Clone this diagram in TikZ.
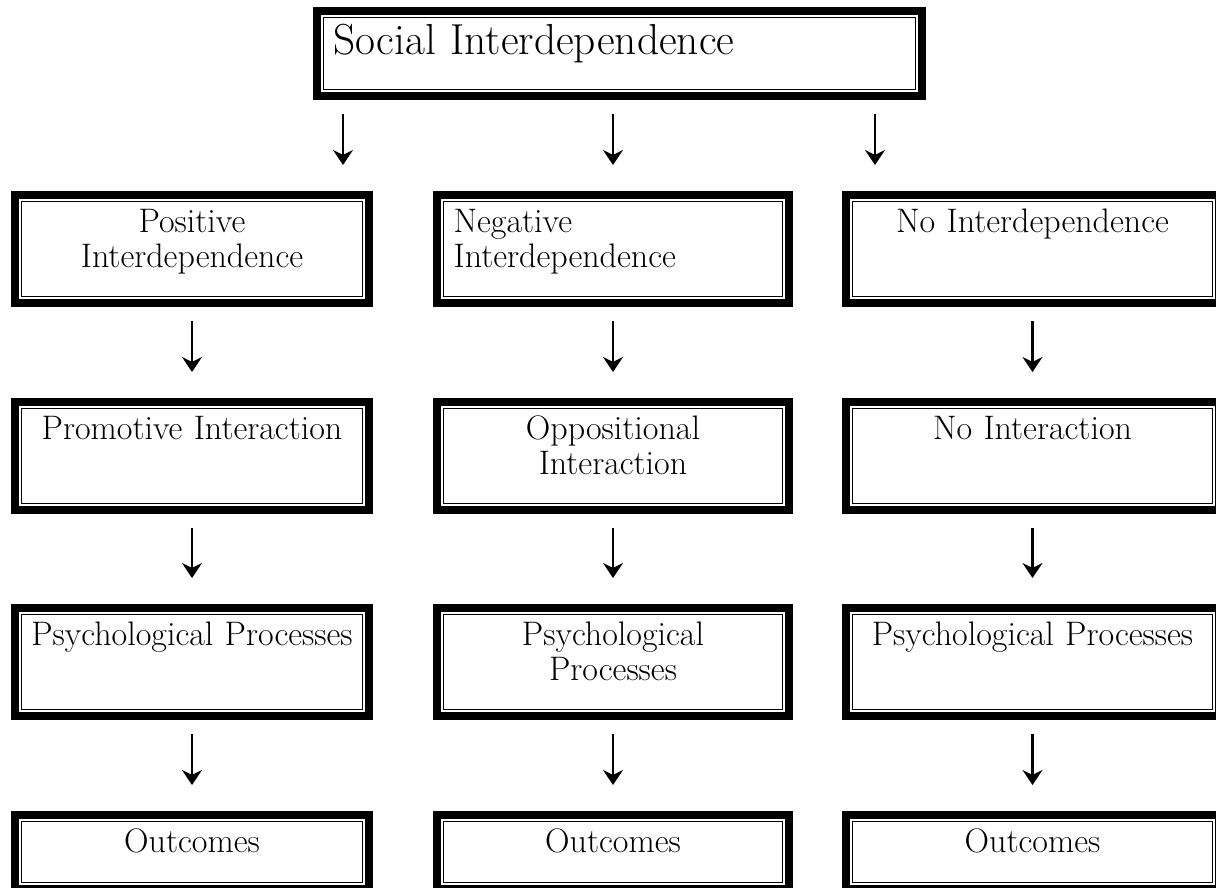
\documentclass[tikz,border=0pt]{standalone}
\usetikzlibrary{arrows.meta}

\tikzset{
  panel/.style={draw, line width=0.8pt, inner xsep=2pt, inner ysep=0pt, outer sep=0pt,
    anchor=north, align=center, font=\fontsize{17}{17.5}\selectfont,
    text height=15.5pt, text depth=31.9pt},
  colA/.style={text width=166.4pt},
  colB/.style={text width=165.4pt},
  colC/.style={text width=175.9pt},
  endrow/.style={text depth=14.9pt},
  arr/.style={-{Stealth[length=7.5pt,width=10pt,inset=2.5pt]}, line width=1.3pt,
    shorten <=12.3pt, shorten >=18.3pt}
}

\begin{document}
\begin{tikzpicture}[x=0.5pt,y=-0.5pt]
    \clip (0,0) rectangle (1216,888);

    \node[panel, align=left, inner xsep=5pt, text width=285.9pt, font=\fontsize{21.7}{23}\selectfont,
      text height=18.7pt, text depth=17.2pt] (soc) at (619.5,17.6) {Social Interdependence};

    \node[panel, colA] (pos) at (192,201.6) {Positive\\Interdependence};
    \node[panel, align=left, inner xsep=5pt, text width=159.4pt] (neg) at (613,201.6) {Negative\\Interdependence};
    \node[panel, colC] (non) at (1032.5,201.6) {No Interdependence};

    \node[panel, colA] (pro) at (192,408.6) {Promotive Interaction};
    \node[panel, colB] (opp) at (613,408.6) {Oppositional\\Interaction};
    \node[panel, colC] (noi) at (1032.5,408.6) {No Interaction};

    \node[panel, colA] (psa) at (192,614.6) {Psychological Processes};
    \node[panel, colB] (psb) at (613,614.6) {Psychological\\Processes};
    \node[panel, colC] (psc) at (1032.5,614.6) {Psychological Processes};

    \node[panel, colA, endrow] (oua) at (192,821.6) {Outcomes};
    \node[panel, colB, endrow] (oub) at (613,821.6) {Outcomes};
    \node[panel, colC, endrow] (ouc) at (1032.5,821.6) {Outcomes};

    % thick outer frames
    \foreach \n in {soc,pos,neg,non,pro,opp,noi,psa,psb,psc,oua,oub,ouc}
      \draw[line width=4pt] ([shift={(-3.3pt,3.3pt)}]\n.north west) rectangle ([shift={(3.3pt,-3.3pt)}]\n.south east);

    \draw[arr] ([xshift=-138.25pt]soc.south) -- ([xshift=-138.25pt]soc.south |- pos.north);
    \draw[arr] ([xshift=-3.25pt]soc.south) -- ([xshift=-3.25pt]soc.south |- neg.north);
    \draw[arr] ([xshift=127.75pt]soc.south) -- ([xshift=127.75pt]soc.south |- non.north);

    \draw[arr] (pos) -- (pro);
    \draw[arr] (neg) -- (opp);
    \draw[arr] (non) -- (noi);
    \draw[arr] (pro) -- (psa);
    \draw[arr] (opp) -- (psb);
    \draw[arr] (noi) -- (psc);
    \draw[arr] (psa) -- (oua);
    \draw[arr] (psb) -- (oub);
    \draw[arr] (psc) -- (ouc);
\end{tikzpicture}
\end{document}
